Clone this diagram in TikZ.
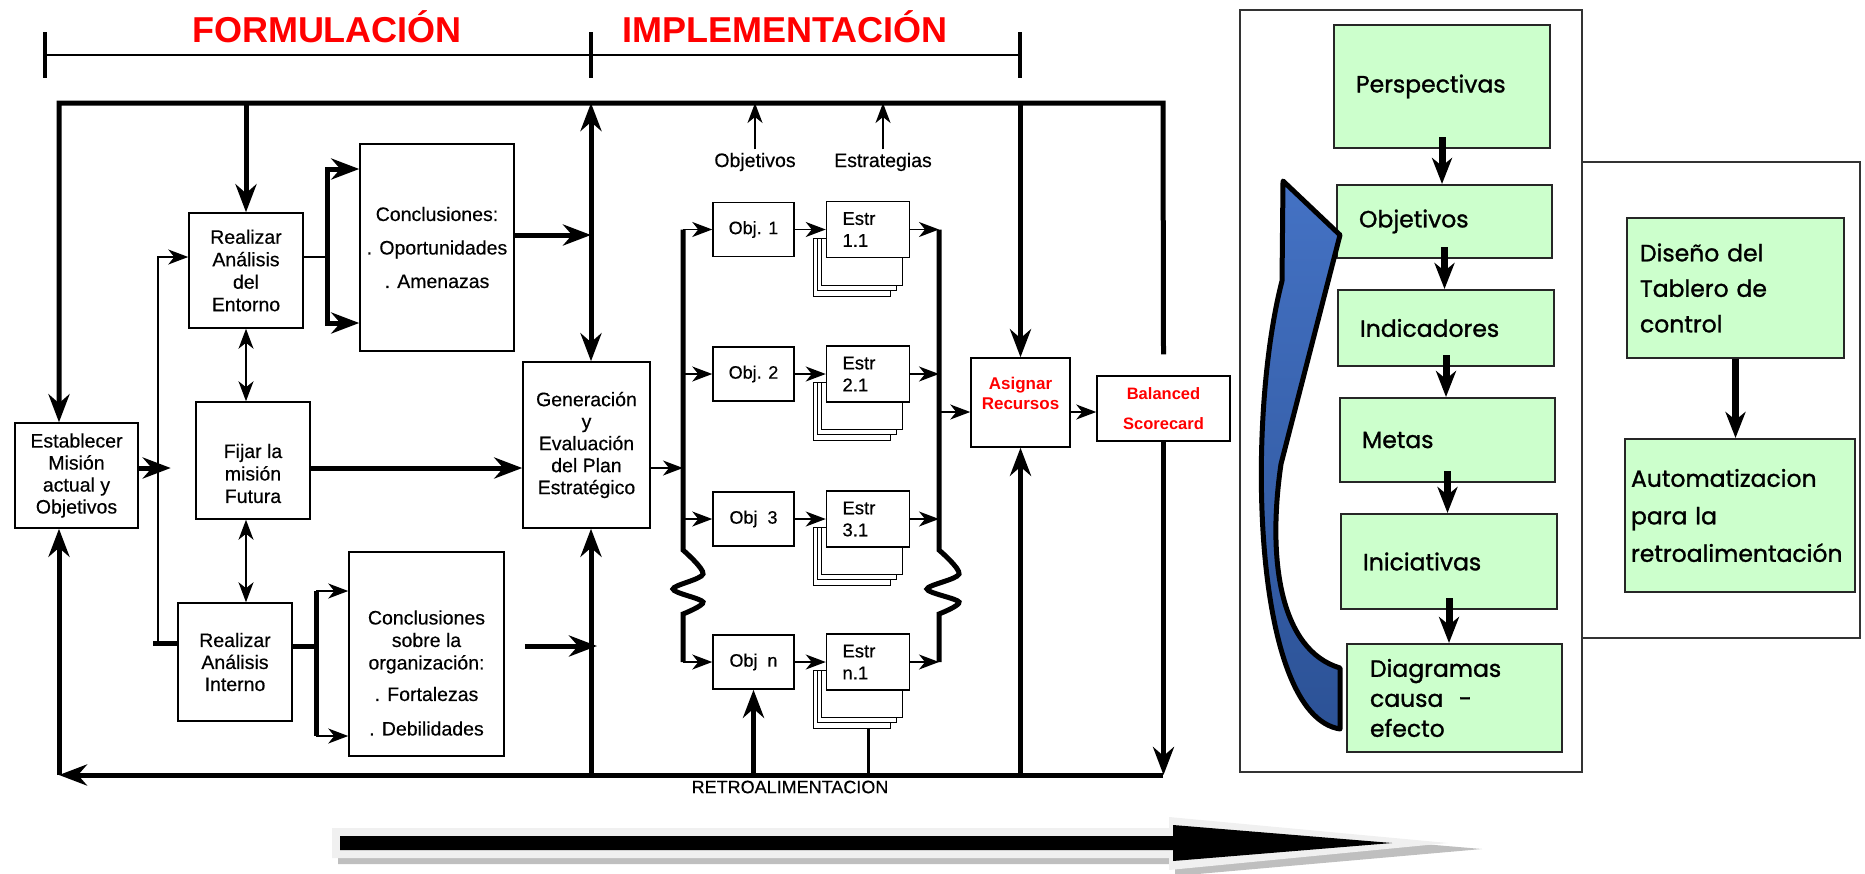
\documentclass[tikz,border=0pt]{standalone}
\usepackage{fontspec}
\setmainfont{Liberation Sans}[UprightFeatures={FakeBold=0.4}]
\newfontfamily\comic{Poppins}[FakeBold=1.2]
\usetikzlibrary{arrows.meta,positioning,calc,backgrounds}
\definecolor{boxgreen}{RGB}{204,255,204}
\definecolor{arrowblue}{RGB}{68,114,196}
\definecolor{arrowdark}{RGB}{44,82,150}

\begin{document}
\begin{tikzpicture}[x=1pt, y=-1pt,
    bigtip/.tip={Stealth[length=28pt,width=21pt,inset=9pt]},
    smalltip/.tip={Stealth[length=20pt,width=15pt,inset=6pt]},
    gtip/.tip={Stealth[length=26pt,width=20pt,inset=8pt]},
    heavy/.style={line width=5pt},
    fine/.style={line width=1.6pt},
    gline/.style={line width=7pt},
    box/.style={rectangle, draw, fill=white, line width=1.5pt, inner sep=0pt, align=center, font=\fontsize{19.5}{22.5}\selectfont},
    txt/.style={align=center, font=\fontsize{19.5}{22.5}\selectfont},
    redtxt/.style={text=red, align=center, font=\bfseries\fontsize{17}{20}\selectfont},
    objbox/.style={box, minimum width=81pt, minimum height=54pt, font=\fontsize{18}{22}\selectfont},
    estrbox/.style={box, minimum width=83pt, minimum height=56pt, text width=51pt, inner xsep=16pt, align=left, font=\fontsize{18.5}{22}\selectfont},
    sheet/.style={draw, fill=white, line width=1.2pt},
    phase/.style={text=red, font=\bfseries\fontsize{36}{36}\selectfont},
    gbox/.style={rectangle, draw=black!85, fill=boxgreen, line width=2pt, inner ysep=0pt, align=left, font=\comic\fontsize{23.5}{36}\selectfont},
    panel/.style={draw=black!80, line width=1.5pt}
]
\useasboundingbox (0,0) rectangle (1865,873);

\node[phase] (form) at (327,27) {FORMULACIÓN};
\node[phase] (impl) at (785,27) {IMPLEMENTACIÓN};
\draw[line width=1.5pt] (45,55) -- (1020,55);
\foreach \x in {45,591,1020}
  \draw[line width=4pt] (\x,32) -- (\x,78);

\coordinate (tl) at (59,103);
\coordinate (tr) at (1163,103);
\coordinate (bl) at (59,775);
\coordinate (br) at (1163,775);
\coordinate (mid) at (591,103);
\coordinate (lt) at (158,257);
\coordinate (lb) at (158,643);
\coordinate (lbx) at (683,0);
\coordinate (rbx) at (939,0);

\node[box, minimum width=123pt, minimum height=105pt, font=\fontsize{19.5}{22}\selectfont] (estab) at (76.5,475.5) {Establecer\\Misión\\actual y\\Objetivos};
\node[box, minimum width=114pt, minimum height=115pt] (entorno) at (246,270.5) {Realizar\\Análisis\\del\\Entorno};
\node[box, minimum width=114pt, minimum height=117pt, label={[txt,yshift=-13pt]center:{Fijar la\\misión\\Futura}}] (fijar) at (253,460.5) {};
\node[box, minimum width=114pt, minimum height=118pt, font=\fontsize{19.5}{22}\selectfont] (interno) at (235,662) {Realizar\\Análisis\\Interno};
\node[box, minimum width=154pt, minimum height=207pt, font=\fontsize{19.5}{33.5}\selectfont] (conc1) at (437,247.5) {Conclusiones:\\. Oportunidades\\. Amenazas};
\node[box, minimum width=155pt, minimum height=204pt, label={[txt,yshift=-19pt]center:{Conclusiones\\sobre la\\organización:\\[9pt]. Fortalezas\\[12pt]. Debilidades}}] (conc2) at (426.5,654) {};
\node[box, minimum width=127pt, minimum height=166pt, font=\fontsize{19.5}{22}\selectfont] (gen) at (586.5,445) {Generación\\y\\Evaluación\\del Plan\\Estratégico};

\node[objbox] (obj1) at (753.5,229.5) {Obj. 1};
\node[objbox] (obj2) at (753.5,374) {Obj. 2};
\node[objbox] (obj3) at (753.5,519) {Obj\ \ 3};
\node[objbox] (objn) at (753.5,662) {Obj\ \ n};
\node[estrbox, right=31pt of obj1] (estr1) {Estr\\1.1};
\node[estrbox, right=31pt of obj2] (estr2) {Estr\\2.1};
\node[estrbox, right=31pt of obj3] (estr3) {Estr\\3.1};
\node[estrbox, right=31pt of objn] (estrn) {Estr\\n.1};

\node[box, minimum width=99pt, minimum height=89pt, label={[redtxt,yshift=9pt]center:{Asignar\\Recursos}}] (asign) at (1020.5,402.5) {};
\node[box, minimum width=133pt, minimum height=65pt, redtxt, font=\bfseries\fontsize{16.5}{30}\selectfont] (bal) at (1163.5,408.5) {Balanced\\Scorecard};

\node[txt] (lobj) at (755,162) {Objetivos};
\node[txt] (lestr) at (883,162) {Estrategias};
\node[txt, font=\fontsize{18}{18}\selectfont] (retro) at (790,787) {RETROALIMENTACION};

\begin{scope}[on background layer]
  \foreach \e in {estr1,estr2,estr3,estrn}
    \foreach \l/\r/\b in {12/20/38,8/14/32,4/8/27}
      \draw[sheet] ($(\e.south west)+(-\l,-20)$) rectangle ($(\e.south east)+(-\r,\b)$);
\end{scope}

\draw[heavy,-bigtip] ([yshift=21pt]bal.north) -- (tr) -- (tl) -- (tl |- estab.north);
\draw[heavy,-bigtip] (entorno.north |- tl) -- (entorno.north);
\draw[heavy,bigtip-bigtip] (mid) -- (mid |- gen.north);
\draw[heavy,-bigtip] (asign.north |- tl) -- (asign.north);
\draw[fine,-smalltip] (lobj.north) -- (lobj.north |- tl);
\draw[fine,-smalltip] (lestr.north) -- (lestr.north |- tl);

\draw[heavy,-bigtip] (bal.south) -- (bal.south |- br);
\draw[heavy,-bigtip] (br) -- (bl);
\draw[heavy,-bigtip] (bl) -- (bl |- estab.south);
\draw[heavy,-bigtip] (mid |- bl) -- (mid |- gen.south);
\draw[heavy,-bigtip] (objn.south |- bl) -- (objn.south);
\draw[line width=3pt] ($(estrn.south)+(0,37)$) -- (estrn.south |- bl);
\draw[heavy,-bigtip] (asign.south |- bl) -- (asign.south);

\draw[heavy,-bigtip] (estab.east |- 0,468) -- ++(32,0);
\draw[fine,-smalltip] (lb) -- (lt) -- (lt -| entorno.west);
\draw[heavy] ([xshift=-5pt]lb) -- (lb -| interno.west);
\draw[fine,smalltip-smalltip] (entorno.south) -- (entorno.south |- fijar.north);
\draw[fine,smalltip-smalltip] (entorno.south |- fijar.south) -- (entorno.south |- interno.north);

\draw[fine] (entorno.east |- lt) -- ++(24,0);
\draw[heavy,bigtip-bigtip] (conc1.west |- 0,169) -| (327,246) |- (conc1.west |- 0,323);
\draw[heavy,-bigtip] (conc1.east |- 0,235) -- (mid |- 0,235);

\draw[heavy] (interno.east |- 0,646) -- (316,646);
\draw[heavy] (316,591) -- (316,736);
\draw[fine,-smalltip] (316,591) -- (conc2.west |- 0,591);
\draw[fine,-smalltip] (316,736) -- (conc2.west |- 0,736);
\draw[heavy,-bigtip] ($(conc2.east |- 0,646)+(20,0)$) -- ($(mid |- 0,646)+(6,0)$);

\draw[heavy,-bigtip] (fijar.east |- 0,468) -- (gen.west |- 0,468);
\draw[fine,-smalltip] (gen.east |- 0,468) -- (lbx |- 0,468);

\draw[heavy] (obj1.west -| lbx) -- (683,550) -- plot[smooth] coordinates {(683,550) (703,574) (673,589) (703,602) (683,614)} -- (objn.west -| lbx);
\draw[heavy] (estr1.east -| rbx) -- (939,550) -- plot[smooth] coordinates {(939,550) (959,574) (927,589) (959,602) (939,614)} -- (estrn.east -| rbx);
\foreach \i in {1,2,3,n} {
  \draw[fine,-smalltip] (obj\i.west -| lbx) -- (obj\i.west);
  \draw[fine,-smalltip] (obj\i.east) -- (obj\i.east -| estr\i.west);
  \draw[fine,-smalltip] (estr\i.east) -- (estr\i.east -| rbx);
}
\draw[fine,-smalltip] (rbx |- 0,412) -- (asign.west |- 0,412);
\draw[fine,-smalltip] (asign.east |- 0,412) -- (bal.west |- 0,412);

\draw[panel] (1240,10) rectangle (1582,772);
\draw[panel] (1582,162) -- (1860,162) -- (1860,638) -- (1582,638);

\node[gbox, minimum height=123pt, text width=172pt, inner xsep=22pt] (persp) at (1442,86.5) {Perspectivas};
\node[gbox, minimum height=73pt, text width=171pt, inner xsep=22pt] (objb) at (1444.5,221.5) {Objetivos};
\node[gbox, minimum height=76pt, text width=172pt, inner xsep=22pt] (indic) at (1446,328) {Indicadores};
\node[gbox, minimum height=84pt, text width=171pt, inner xsep=22pt] (metas) at (1447.5,440) {Metas};
\node[gbox, minimum height=95pt, text width=172pt, inner xsep=22pt] (inic) at (1449,561.5) {Iniciativas};
\node[gbox, minimum height=108pt, text width=169pt, inner xsep=23pt, font=\comic\fontsize{23.5}{30}\selectfont] (diag) at (1454.5,698) {Diagramas\\causa\ \ -\\efecto};
\node[gbox, minimum height=140pt, text width=191pt, inner xsep=13pt, font=\comic\fontsize{23.5}{35.5}\selectfont] (diseno) at (1735.5,288) {Diseño del\\Tablero de\\control};
\node[gbox, minimum height=153pt, text width=218pt, inner xsep=6pt, font=\comic\fontsize{23.5}{37.5}\selectfont] (autom) at (1740,515.5) {Automatizacion\\para la\\retroalimentación};

\foreach \a/\b in {persp/objb,objb/indic,indic/metas,metas/inic,inic/diag}
  \draw[gline,-gtip] ([yshift=12pt]\a.south) -- (\a.south |- \b.north);
\draw[gline,-gtip] (diseno.south) -- (diseno.south |- autom.north);

\draw[line width=5pt, line join=round, top color=arrowblue, bottom color=arrowdark] (1283,181) -- (1340,235) -- (1281,464) .. controls (1267,560) and (1280,650) .. (1340,668) -- (1340,729) .. controls (1252,715) and (1246,420) .. (1282,281) -- cycle;

\fill[black!25] (338,834) -- (1175,834) -- (1175,823) -- (1482,849) -- (1175,876) -- (1175,864) -- (338,864) -- cycle;
\fill[black!6] (332,828) -- (1169,828) -- (1169,817) -- (1448,843) -- (1169,870) -- (1169,858) -- (332,858) -- cycle;
\fill (340,836) -- (1173,836) -- (1173,825) -- (1392,843) -- (1173,861) -- (1173,850) -- (340,850) -- cycle;

\end{tikzpicture}
\end{document}
